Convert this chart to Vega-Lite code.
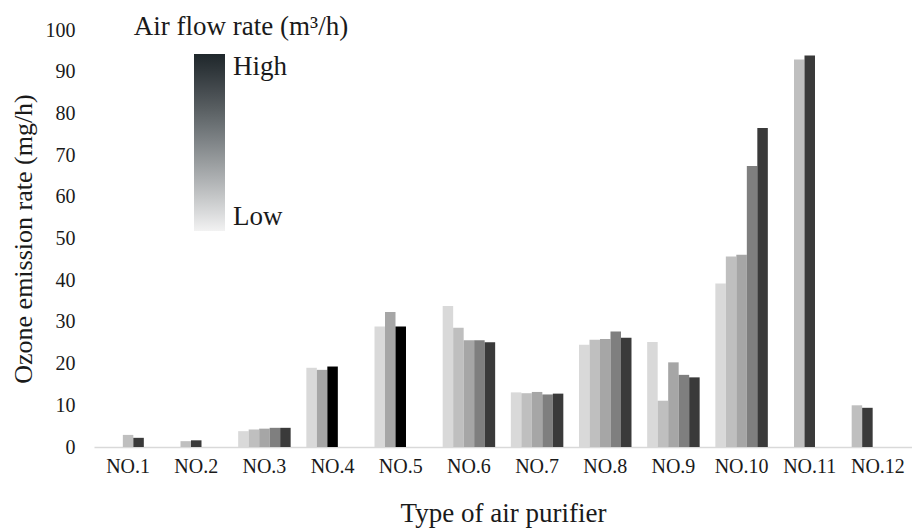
{
  "$schema": "https://vega.github.io/schema/vega-lite/v6.json",
  "width": 818,
  "height": 417,
  "autosize": {"type": "none"},
  "padding": {"left": 94, "top": 30, "right": 0, "bottom": 83},
  "background": "#ffffff",
  "config": {
    "view": {"stroke": null},
    "font": "Liberation Serif",
    "axis": {"labelFont": "Liberation Serif", "titleFont": "Liberation Serif", "labelColor": "#1a1a1a", "titleColor": "#1a1a1a", "titleFontWeight": "normal", "grid": false, "ticks": false},
    "legend": {"labelFont": "Liberation Serif", "titleFont": "Liberation Serif"}
  },
  "data": {
    "values": [
      {"purifier": "NO.1", "setting": "3", "shade": 2, "rate": 2.9},
      {"purifier": "NO.1", "setting": "4", "shade": 5, "rate": 2.2},
      {"purifier": "NO.2", "setting": "2", "shade": 2, "rate": 1.4},
      {"purifier": "NO.2", "setting": "3", "shade": 5, "rate": 1.6},
      {"purifier": "NO.3", "setting": "1", "shade": 1, "rate": 3.8},
      {"purifier": "NO.3", "setting": "2", "shade": 2, "rate": 4.2},
      {"purifier": "NO.3", "setting": "3", "shade": 3, "rate": 4.4},
      {"purifier": "NO.3", "setting": "4", "shade": 4, "rate": 4.6},
      {"purifier": "NO.3", "setting": "5", "shade": 5, "rate": 4.6},
      {"purifier": "NO.4", "setting": "1", "shade": 1, "rate": 19.0},
      {"purifier": "NO.4", "setting": "2", "shade": 3, "rate": 18.5},
      {"purifier": "NO.4", "setting": "3", "shade": 6, "rate": 19.3},
      {"purifier": "NO.5", "setting": "1", "shade": 1, "rate": 28.9},
      {"purifier": "NO.5", "setting": "2", "shade": 3, "rate": 32.4},
      {"purifier": "NO.5", "setting": "3", "shade": 6, "rate": 28.9},
      {"purifier": "NO.6", "setting": "1", "shade": 1, "rate": 33.8},
      {"purifier": "NO.6", "setting": "2", "shade": 2, "rate": 28.6},
      {"purifier": "NO.6", "setting": "3", "shade": 3, "rate": 25.6},
      {"purifier": "NO.6", "setting": "4", "shade": 4, "rate": 25.6},
      {"purifier": "NO.6", "setting": "5", "shade": 5, "rate": 25.1},
      {"purifier": "NO.7", "setting": "1", "shade": 1, "rate": 13.1},
      {"purifier": "NO.7", "setting": "2", "shade": 2, "rate": 12.9},
      {"purifier": "NO.7", "setting": "3", "shade": 3, "rate": 13.2},
      {"purifier": "NO.7", "setting": "4", "shade": 4, "rate": 12.6},
      {"purifier": "NO.7", "setting": "5", "shade": 5, "rate": 12.8},
      {"purifier": "NO.8", "setting": "1", "shade": 1, "rate": 24.5},
      {"purifier": "NO.8", "setting": "2", "shade": 2, "rate": 25.7},
      {"purifier": "NO.8", "setting": "3", "shade": 3, "rate": 25.9},
      {"purifier": "NO.8", "setting": "4", "shade": 4, "rate": 27.7},
      {"purifier": "NO.8", "setting": "5", "shade": 5, "rate": 26.2},
      {"purifier": "NO.9", "setting": "1", "shade": 1, "rate": 25.2},
      {"purifier": "NO.9", "setting": "2", "shade": 2, "rate": 11.1},
      {"purifier": "NO.9", "setting": "3", "shade": 3, "rate": 20.3},
      {"purifier": "NO.9", "setting": "4", "shade": 4, "rate": 17.3},
      {"purifier": "NO.9", "setting": "5", "shade": 5, "rate": 16.7},
      {"purifier": "NO.10", "setting": "1", "shade": 1, "rate": 39.2},
      {"purifier": "NO.10", "setting": "2", "shade": 2, "rate": 45.7},
      {"purifier": "NO.10", "setting": "3", "shade": 3, "rate": 46.1},
      {"purifier": "NO.10", "setting": "4", "shade": 4, "rate": 67.4},
      {"purifier": "NO.10", "setting": "5", "shade": 5, "rate": 76.5},
      {"purifier": "NO.11", "setting": "2", "shade": 2, "rate": 92.9},
      {"purifier": "NO.11", "setting": "3", "shade": 5, "rate": 93.9},
      {"purifier": "NO.12", "setting": "1", "shade": 2, "rate": 10.0},
      {"purifier": "NO.12", "setting": "2", "shade": 5, "rate": 9.4}
    ]
  },
  "mark": {"type": "bar", "strokeWidth": 0},
  "encoding": {
    "x": {
      "field": "purifier",
      "type": "nominal",
      "sort": ["NO.1","NO.2","NO.3","NO.4","NO.5","NO.6","NO.7","NO.8","NO.9","NO.10","NO.11","NO.12"],
      "scale": {"paddingInner": 0.23, "paddingOuter": 0.115},
      "axis": {"title": "Type of air purifier", "labelAngle": 0, "labelFontSize": 20, "labelPadding": 9, "titleFontSize": 27, "titlePadding": 24, "domainColor": "#d9d9d9", "domainWidth": 1.5}
    },
    "xOffset": {"field": "setting", "type": "nominal", "scale": {"domain": ["1","2","3","4","5"], "paddingInner": 0, "paddingOuter": 0}},
    "y": {
      "field": "rate",
      "type": "quantitative",
      "scale": {"domain": [0, 100], "nice": false},
      "axis": {"title": "Ozone emission rate (mg/h)", "values": [0,10,20,30,40,50,60,70,80,90,100], "domain": false, "labelFontSize": 20, "labelPadding": 19, "titleFontSize": 26, "titlePadding": 9}
    },
    "fill": {
      "field": "shade",
      "type": "nominal",
      "scale": {"domain": [1,2,3,4,5,6], "range": ["#d9d9d9","#bfbfbf","#a6a6a6","#7f7f7f","#3a3a3a","#000000"]},
      "legend": null
    },
    "stroke": {
      "field": "shade",
      "type": "quantitative",
      "scale": {"domain": [1, 6], "range": ["#f2f2f2", "#1f272b"]},
      "legend": {
        "title": "Air flow rate (m³/h)",
        "orient": "none",
        "legendX": 40,
        "legendY": -16,
        "padding": 0,
        "direction": "vertical",
        "gradientLength": 177,
        "gradientThickness": 31,
        "gradientStrokeWidth": 0,
        "values": [1, 6],
        "labelExpr": "datum.value == 6 ? 'High' : 'Low'",
        "labelFontSize": 27,
        "labelColor": "#1a1a1a",
        "labelOffset": 8,
        "labelOverlap": false,
        "titleFontSize": 27,
        "titleFontWeight": "normal",
        "titleColor": "#1a1a1a",
        "titleAnchor": "middle",
        "titleLimit": 400,
        "titlePadding": 13
      }
    }
  }
}
